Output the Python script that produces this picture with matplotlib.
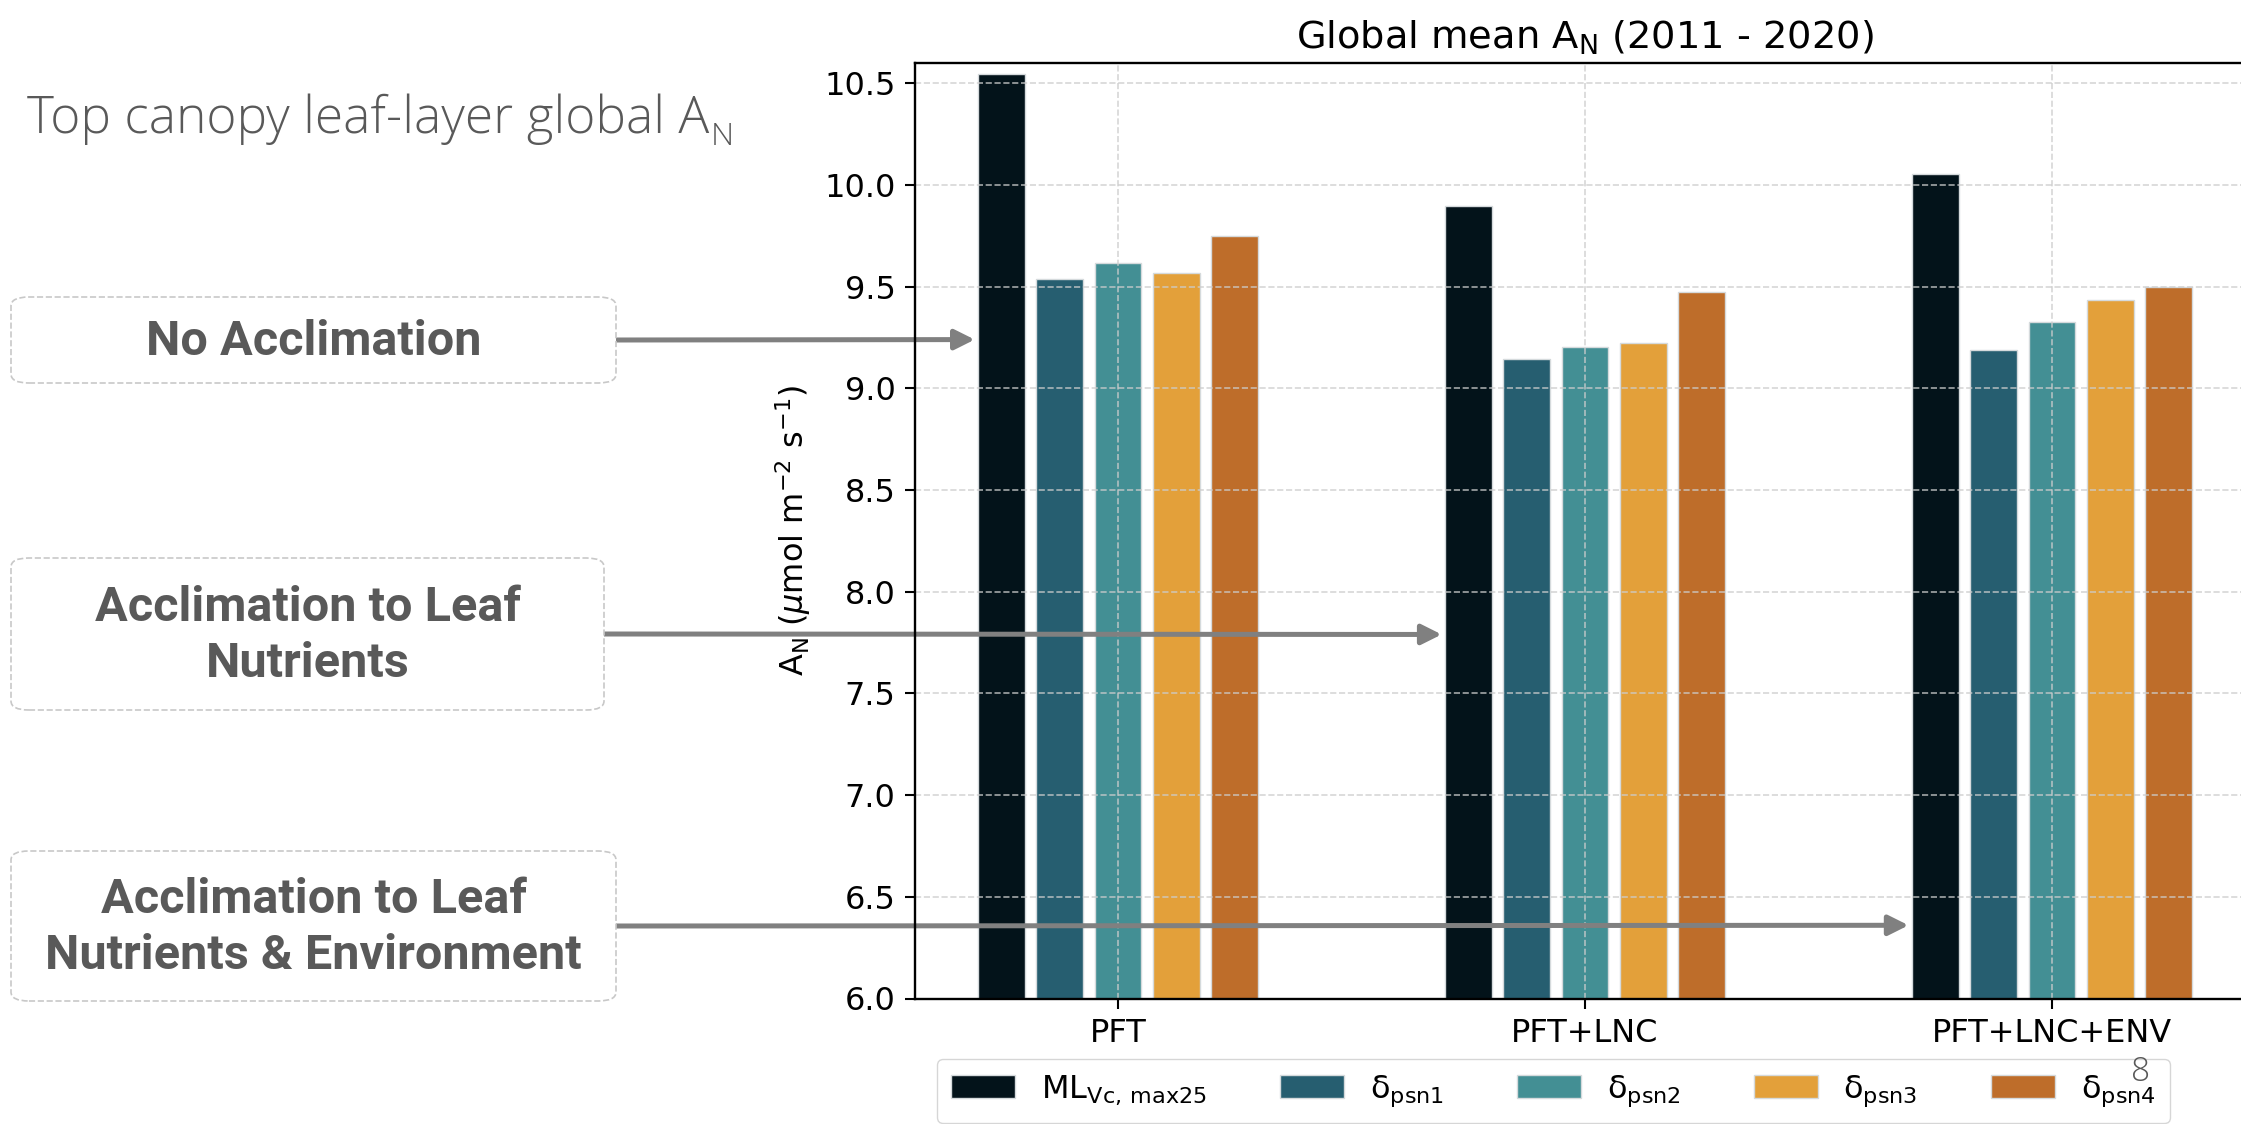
import matplotlib
matplotlib.use("Agg")
import matplotlib.pyplot as plt
import numpy as np
from matplotlib.patches import FancyBboxPatch, Patch

# %% Data
scenarios = ["PFT", "PFT+LNC", "PFT+LNC+ENV"]
ml_vcmax25 = [10.545, 9.898, 10.054]
psn1 = [9.536, 9.143, 9.190]
psn2 = [9.615, 9.202, 9.327]
psn3 = [9.566, 9.221, 9.436]
psn4 = [9.751, 9.475, 9.501]
series_labels = [
    r"ML$_{\mathrm{Vc,\,max25}}$",
    r"δ$_{\mathrm{psn1}}$",
    r"δ$_{\mathrm{psn2}}$",
    r"δ$_{\mathrm{psn3}}$",
    r"δ$_{\mathrm{psn4}}$",
]
box_texts = [
    "No Acclimation",
    "Acclimation to Leaf\nNutrients",
    "Acclimation to Leaf\nNutrients & Environment",
]
# where each arrow points (scenario index, A_N level)
arrow_targets = [(0, 9.24), (1, 7.79), (2, 6.36)]

# %% Style
COLORS = ["#03131a", "#265e70", "#438f94", "#e3a03a", "#be6d2a"]
GRAY_TEXT = "#595959"
ARROW_GRAY = "#808080"
W, H = 2241, 1124

plt.rcParams.update(
    {
        "font.size": 23,
        "axes.linewidth": 1.7,
        "xtick.major.size": 7,
        "ytick.major.size": 7,
        "xtick.major.width": 1.5,
        "ytick.major.width": 1.5,
        "xtick.major.pad": 7,
        "ytick.major.pad": 7,
    }
)

fig = plt.figure(figsize=(W / 100, H / 100), dpi=100)
ax = fig.add_axes([915 / W, 1 - 998.5 / H, 1340 / W, (998.5 - 63) / H])

series = [ml_vcmax25, psn1, psn2, psn3, psn4]
x = np.arange(len(scenarios))
for i, vals in enumerate(series):
    ax.bar(
        x + (i - 2) * 0.125,
        vals,
        width=0.1,
        color=COLORS[i],
        edgecolor="#d5dadc",
        linewidth=1.0,
        label=series_labels[i],
    )

ax.set_ylim(6.0, 10.6)
ax.set_xlim(-0.435, 2.435)
ax.set_yticks(np.arange(6.0, 10.51, 0.5))
ax.set_xticks(x)
ax.set_xticklabels(scenarios)
ax.grid(True, linestyle="--", color="#cccccc", alpha=0.8, linewidth=1.2)
ax.set_axisbelow(False)
for sp in ax.spines.values():
    sp.set_zorder(3)
ax.set_ylabel(r"A$_\mathrm{N}$ ($\mu$mol m$^{-2}$ s$^{-1}$)", labelpad=8)
ax.set_title(r"Global mean A$_\mathrm{N}$ (2011 - 2020)", pad=10)

handles = [Patch(facecolor=c, edgecolor="#d5dadc") for c in COLORS]
fig.legend(
    handles,
    series_labels,
    loc="upper left",
    bbox_to_anchor=(937 / W, 1 - 1059 / H),
    ncol=5,
    borderaxespad=0,
    fontsize=23,
    columnspacing=2.3,
    borderpad=0.45,
)

# %% Slide annotations
renderer = fig.canvas.get_renderer()
head = fig.text(27 / W, 1 - 133 / H, "Top canopy leaf-layer global A",
                fontsize=37, color=GRAY_TEXT, family="Open Sans",
                fontweight="light", va="baseline", ha="left")
bb = head.get_window_extent(renderer)
fig.text((bb.x1 + 1) / W, 1 - 145 / H, "N", fontsize=23, color=GRAY_TEXT,
         family="Open Sans", fontweight="light", va="baseline", ha="left")
fig.text(2141 / W, 1 - 1081 / H, "8", fontsize=24, color=GRAY_TEXT,
         family="Open Sans", fontweight="light", ha="center", va="baseline",
         zorder=20)

boxes = [(11, 297, 616, 383), (11, 558, 604, 710), (11, 851, 616, 1001)]
for (x0, y0, x1, y1), label, (gi, yv) in zip(boxes, box_texts, arrow_targets):
    patch = FancyBboxPatch(
        (x0 / W, 1 - y1 / H), (x1 - x0) / W, (y1 - y0) / H,
        boxstyle="round,pad=0,rounding_size=0.008",
        transform=fig.transFigure, facecolor="white",
        edgecolor="#c8c8c8", linestyle="--", linewidth=1.2,
    )
    fig.add_artist(patch)
    yc = (y0 + y1) / 2
    fig.text((x0 + x1) / 2 / W, 1 - (yc + 2) / H, label, ha="center", va="center",
             fontsize=35, fontweight="bold", family="Roboto", color=GRAY_TEXT,
             linespacing=1.3)
    ax.annotate(
        "",
        xy=(gi - 0.307, yv), xycoords="data",
        xytext=(x1, H - yc), textcoords="figure pixels",
        arrowprops=dict(arrowstyle="-|>,head_length=0.6,head_width=0.3",
                        color=ARROW_GRAY, lw=3.6, mutation_scale=20,
                        shrinkA=0, shrinkB=0),
        annotation_clip=False,
    )

plt.savefig("out.png", dpi=100)
